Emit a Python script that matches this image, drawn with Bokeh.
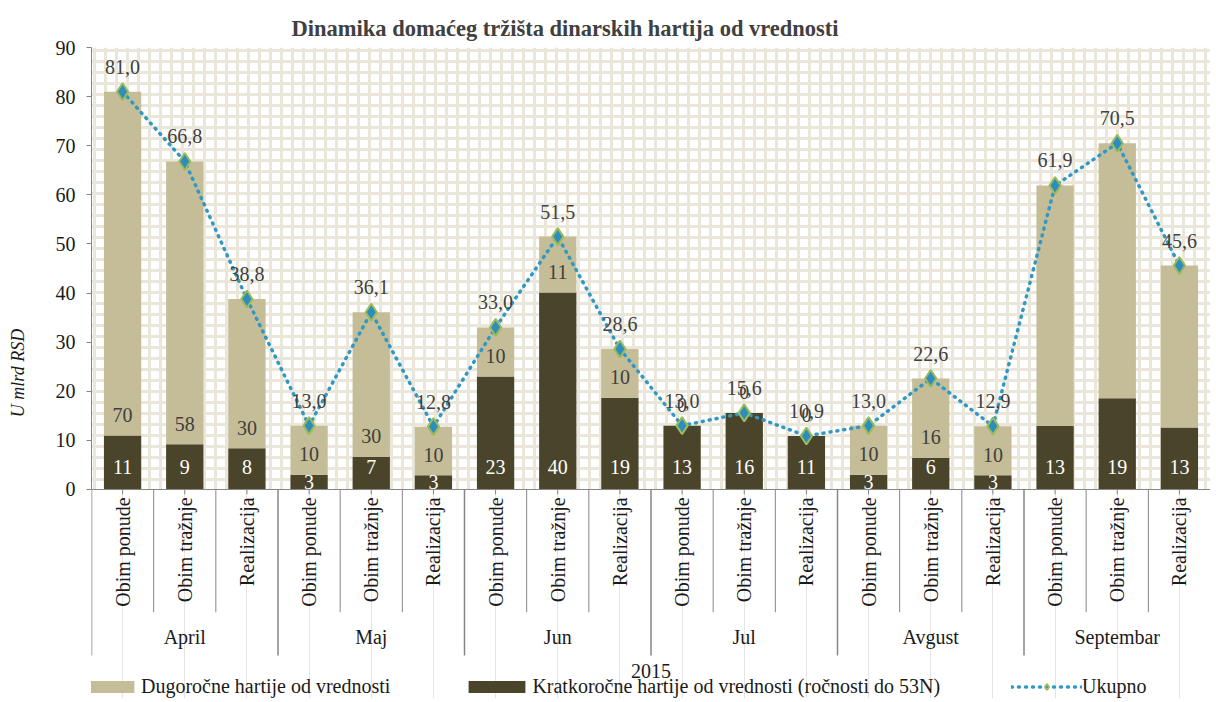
import math
from bokeh.plotting import figure
from bokeh.models import (ColumnDataSource, FactorRange, Range1d, BoxAnnotation,
                          Legend, LegendItem, FixedTicker, Span)
from bokeh.core.properties import value
from bokeh.embed import file_html
from bokeh.resources import INLINE

# ---------------- data ----------------
year = "2015"
months = ["April", "Maj", "Jun", "Jul", "Avgust", "Septembar"]
kinds = ["Obim ponude", "Obim tražnje", "Realizacija"]

# Kratkoročne hartije od vrednosti (ročnosti do 53N)
short_term = [11.0, 9.2, 8.4, 3.0, 6.6, 2.9, 23.0, 40.1, 18.7,
              13.0, 15.6, 10.9, 3.0, 6.4, 2.9, 13.0, 18.6, 12.6]
# Dugoročne hartije od vrednosti
long_term = [70.0, 57.6, 30.4, 10.0, 29.5, 9.9, 10.0, 11.4, 9.9,
             0.0, 0.0, 0.0, 10.0, 16.2, 10.0, 48.9, 51.9, 33.0]
# Ukupno
total = [81.0, 66.8, 38.8, 13.0, 36.1, 12.8, 33.0, 51.5, 28.6,
         13.0, 15.6, 10.9, 13.0, 22.6, 12.9, 61.9, 70.5, 45.6]

short_labels = ["11", "9", "8", "3", "7", "3", "23", "40", "19",
                "13", "16", "11", "3", "6", "3", "13", "19", "13"]
long_labels = ["70", "58", "30", "10", "30", "10", "10", "11", "10",
               "0", "0", "0", "10", "16", "10", "", "", ""]

title_text = "Dinamika domaćeg tržišta dinarskih hartija od vrednosti"
y_title = "U mlrd RSD"
legend_long = "Dugoročne hartije od vrednosti"
legend_short = "Kratkoročne hartije od vrednosti (ročnosti do 53N)"
legend_total = "Ukupno"
y_ticks = [0, 10, 20, 30, 40, 50, 60, 70, 80, 90]

# ---------------- style ----------------
LIGHT = "#C4BD97"
DARK = "#4A452A"
LINE = "#2F98C4"
MK_FILL = "#2E8DBF"
MK_LINE = "#9BBB59"
AXIS = "#868686"
TXT = "#404040"
BLACK = "#1a1a1a"
FONT = "Liberation Serif"

factors = [(m, k) for m in months for k in kinds]

src = ColumnDataSource(dict(
    x=factors,
    short=short_term,
    long=long_term,
    total=total,
    total_lbl=[f"{v:.1f}".replace(".", ",") for v in total],
    short_lbl=short_labels,
    long_lbl=long_labels,
    short_y=[4.5 if s >= 5 else s / 2 for s in short_term],
    long_y=[s + 4.2 for s in short_term],
))

x_range = FactorRange(*factors, range_padding=0, group_padding=0,
                      factor_padding=0)

p = figure(x_range=x_range, y_range=Range1d(-42.56, 90),
           width=1210, height=698, output_backend="svg",
           toolbar_location=None, x_axis_location=None,
           min_border_left=91, min_border_right=0, min_border_top=47,
           min_border_bottom=0, outline_line_color=None,
           title=title_text)

p.title.text_font = FONT
p.title.text_font_size = "22.5px"
p.title.text_font_style = "bold"
p.title.text_color = TXT
p.title.align = "left"
p.title.offset = 200
p.title.standoff = 13

p.ygrid.visible = False

# patterned plot area background
p.add_layout(BoxAnnotation(bottom=0, top=90, fill_color="white", fill_alpha=1,
                           line_color=None, hatch_pattern="+",
                           hatch_color="#EAE7DA", hatch_weight=3,
                           hatch_scale=11, level="underlay"))

# y axis
yax = p.yaxis[0]
yax.ticker = FixedTicker(ticks=y_ticks)
yax.bounds = (0, 90)
yax.axis_line_color = AXIS
yax.major_tick_line_color = AXIS
yax.major_tick_out = 5
yax.major_tick_in = 0
yax.minor_tick_line_color = None
yax.major_label_text_font = FONT
yax.major_label_text_font_size = "20px"
yax.major_label_text_color = BLACK
yax.major_label_standoff = 11
yax.axis_label = y_title
yax.axis_label_text_font = FONT
yax.axis_label_text_font_style = "italic"
yax.axis_label_text_font_size = "18px"
yax.axis_label_text_color = BLACK
yax.axis_label_standoff = 25

# bars
r_dark, r_light = p.vbar_stack(["short", "long"], x="x", width=0.6,
                               fill_color=[DARK, LIGHT], line_color=None,
                               source=src)

# x axis line (hand-built categorical axis below the value zero)
p.add_layout(Span(location=0, dimension="width", line_color=AXIS, line_width=1))

ticks_src = ColumnDataSource(dict(x=factors))
p.segment(x0="x", y0=0, x1="x", y1=-1.0, source=ticks_src,
          line_color=AXIS, line_width=1)

sep_small = []
sep_big = [(months[0], kinds[0], -0.5)]
for i, m in enumerate(months):
    sep_small.append((m, kinds[0], 0.5))
    sep_small.append((m, kinds[1], 0.5))
    if i < len(months) - 1:
        sep_big.append((m, kinds[2], 0.5))
p.segment(x0=sep_small, y0=0, x1=sep_small, y1=-25.0,
          line_color=AXIS, line_width=1)
p.segment(x0=sep_big, y0=0, x1=sep_big, y1=-33.8,
          line_color=AXIS, line_width=1.5)

cat_src = ColumnDataSource(dict(x=factors, t=[k for m in months for k in kinds]))
p.text(x="x", y=-1.6, text="t", source=cat_src, angle=math.pi / 2,
       text_align="right", text_baseline="middle", text_color=BLACK,
       text_font=value(FONT), text_font_size="20px")

mon_src = ColumnDataSource(dict(x=[(m, kinds[1]) for m in months], t=months))
p.text(x="x", y=-30.1, text="t", source=mon_src, text_align="center",
       text_baseline="middle", text_color=BLACK, text_font=value(FONT),
       text_font_size="20px")

p.text(x=[(months[2], kinds[2], 0.5)], y=[-36.9], text=[year],
       text_align="center", text_baseline="middle", text_color=BLACK,
       text_font=value(FONT), text_font_size="20px")

# total line
r_line = p.line("x", "total", source=src, line_color=LINE, line_width=3.5,
                line_dash="1 6", line_cap="round")
r_mk = p.scatter("x", "total", source=src, marker="diamond", size=17,
                 fill_color=MK_FILL, line_color=MK_LINE, line_width=2)

# labels
p.text(x="x", y="short_y", text="short_lbl", source=src, text_color="white",
       text_align="center", text_baseline="middle", text_font=value(FONT),
       text_font_size="20px")
p.text(x="x", y="long_y", text="long_lbl", source=src, text_color=TXT,
       text_align="center", text_baseline="middle", text_font=value(FONT),
       text_font_size="20px")
p.text(x="x", y="total", text="total_lbl", source=src, text_color=TXT,
       y_offset=-25, text_align="center", text_baseline="middle",
       text_font=value(FONT), text_font_size="20px")

legend = Legend(items=[
    LegendItem(label=legend_long, renderers=[r_light]),
    LegendItem(label=legend_short, renderers=[r_dark]),
    LegendItem(label=legend_total, renderers=[r_line, r_mk]),
], orientation="horizontal", location=(-21, 0), glyph_width=71,
    glyph_height=15, label_standoff=0, spacing=71, padding=0, margin=0,
    border_line_color=None, background_fill_alpha=0,
    label_text_font=FONT, label_text_font_size="20px", label_text_color=BLACK)
p.add_layout(legend)

open("out.html", "w").write(file_html(p, INLINE))
